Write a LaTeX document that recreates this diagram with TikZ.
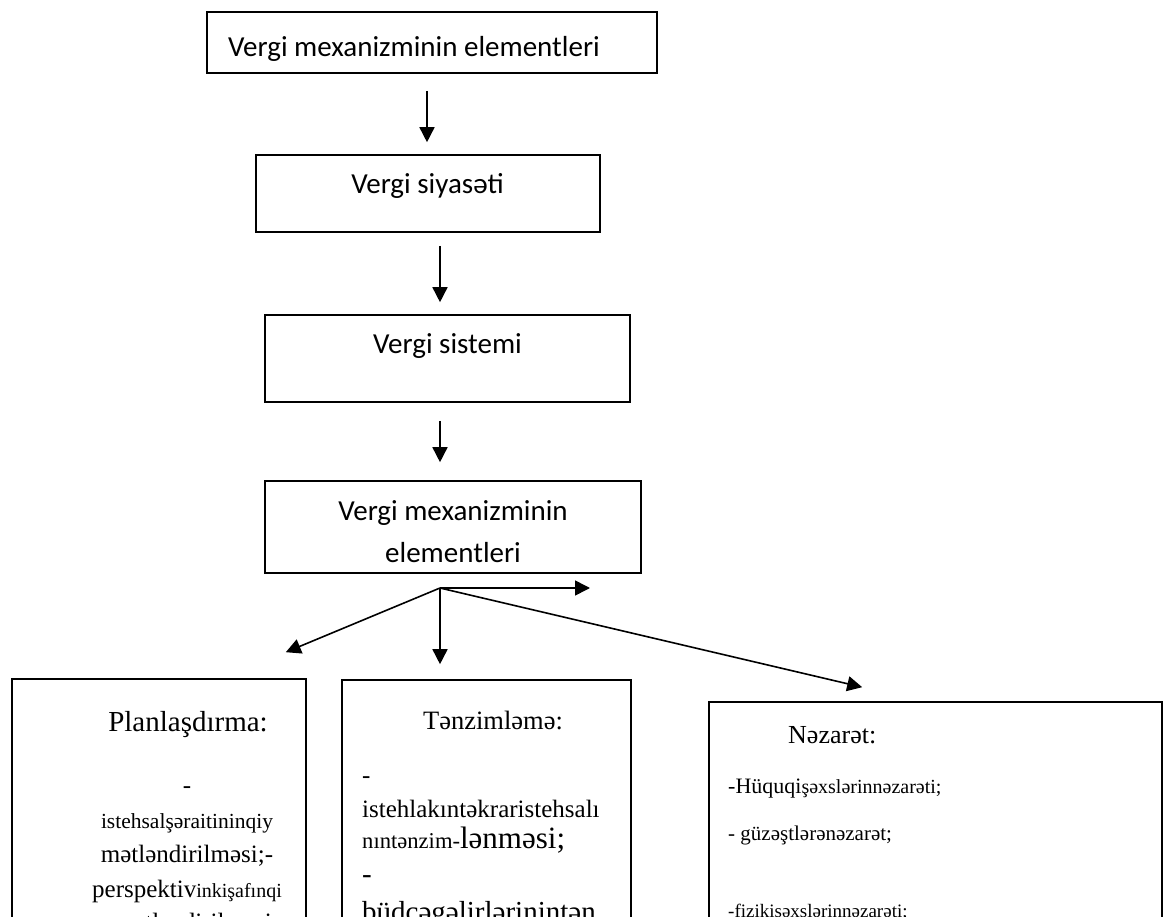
\documentclass[tikz,border=0pt]{standalone}
\usepackage{fontspec}
\setmainfont{Liberation Serif}
\newfontfamily\calibri{Carlito}
\usetikzlibrary{arrows.meta}
\newcommand\fsz[1]{\fontsize{#1}{#1}\selectfont}
\tikzset{
  box/.style={draw, line width=1.6pt, inner sep=0pt},
  arr/.style={line width=1.6pt, -{Triangle[length=15pt,width=15pt]}},
  ctext/.style={font=\calibri\fsz{29}, inner sep=0pt, anchor=base},
  ttext/.style={inner sep=0pt, anchor=base},
  ltext/.style={inner sep=0pt, anchor=base west}
}

\begin{document}
\begin{tikzpicture}[x=1pt, y=-1pt]
\useasboundingbox (0,0) rectangle (1165,917);
\clip (0,0) rectangle (1165,917);
% Chain of boxes
    \node[box, minimum width=450pt, minimum height=61pt] (head) at (432,42.5) {};
    \node[box, minimum width=344pt, minimum height=77pt] (policy) at (428,193.5) {};
    \node[box, minimum width=365pt, minimum height=87pt] (system) at (447.5,358.5) {};
    \node[box, minimum width=376pt, minimum height=92pt] (elems) at (453,527) {};
%Lower boxes
    \node[box, minimum width=294pt, minimum height=321pt] (plan) at (159,839.5) {};
    \node[box, minimum width=289pt, minimum height=320pt] (reg) at (486.5,840) {};
    \node[box, minimum width=453pt, minimum height=298pt] (ctrl) at (935.5,851) {};
%Box titles
    \node[ctext, anchor=base west] (headtxt) at (228,57) {Vergi mexanizminin elementleri};
    \node[ctext] (policytxt) at (427.5,194) {Vergi siyasəti};
    \node[ctext] (systemtxt) at (447.5,353) {Vergi sistemi};
    \node[ctext] (elemsa) at (453,520) {Vergi mexanizminin};
    \node[ctext] (elemsb) at (453,562) {elementleri};
%Planning
    \node[ttext, font=\fsz{29}] (p0) at (188,731) {Planlaşdırma:};
    \node[ttext, font=\fsz{25}] (p1) at (187,793) {-};
    \node[ttext, font=\fsz{21.5}] (p2) at (187,828) {istehsalşəraitininqiy};
    \node[ttext, font=\fsz{25}] (p3) at (187,862) {mətləndirilməsi;-};
    \node[ttext] (p4) at (187,897) {{\fsz{25}perspektiv}{\fsz{20}inkişafınqi}};
    \node[ttext, font=\fsz{25}] (p5) at (187,930) {ymətləndirilməsi};
%Regulation
    \node[ttext, font=\fsz{26.5}] (r0) at (493,729) {Tənzimləmə:};
    \node[ltext, font=\fsz{25}] (r1) at (362,783) {-};
    \node[ltext, font=\fsz{25}] (r2) at (362,817) {istehlakıntəkraristehsalı};
    \node[ltext] (r3) at (362,848) {{\fsz{22.6}nıntənzim-}{\fsz{31}lənməsi;}};
    \node[ltext, font=\fsz{29}] (r4) at (362,883) {-};
    \node[ltext, font=\fsz{29}] (r5) at (362,921) {büdcəgəlirlərinintən};
%Control
    \node[ltext, font=\fsz{26}] (n0) at (788,743) {Nəzarət:};
    \node[ltext] (n1) at (728,793) {{\fsz{22}-Hüquqi}{\fsz{20}şəxslərinnəzarəti;}};
    \node[ltext, font=\fsz{21}] (n2) at (728,840) {- güzəştlərənəzarət;};
    \node[ltext, font=\fsz{19}] (n3) at (728,917) {-fizikişəxslərinnəzarəti;};
%Arrows
    \draw[arr] ([xshift=-5pt,yshift=-17pt]head.south) -- ([xshift=-1pt,yshift=12pt]policy.north);
    \draw[arr] ([xshift=12pt,yshift=-13pt]policy.south) -- ([xshift=-7.5pt,yshift=12pt]system.north);
    \draw[arr] ([xshift=-7.5pt,yshift=-18pt]system.south) -- ([xshift=-13pt,yshift=18pt]elems.north);
    \coordinate (hub) at (440,588);
    \coordinate (loose) at (590,588);
    \draw[arr] (hub) -- (loose);
    \draw[arr] (hub) -- ([xshift=-21pt,yshift=26pt]plan.north east);
    \draw[arr] (hub) -- ([xshift=-46.5pt,yshift=15pt]reg.north);
    \draw[arr] (hub) -- ([xshift=154pt,yshift=14pt]ctrl.north west);
\end{tikzpicture}
\end{document}
